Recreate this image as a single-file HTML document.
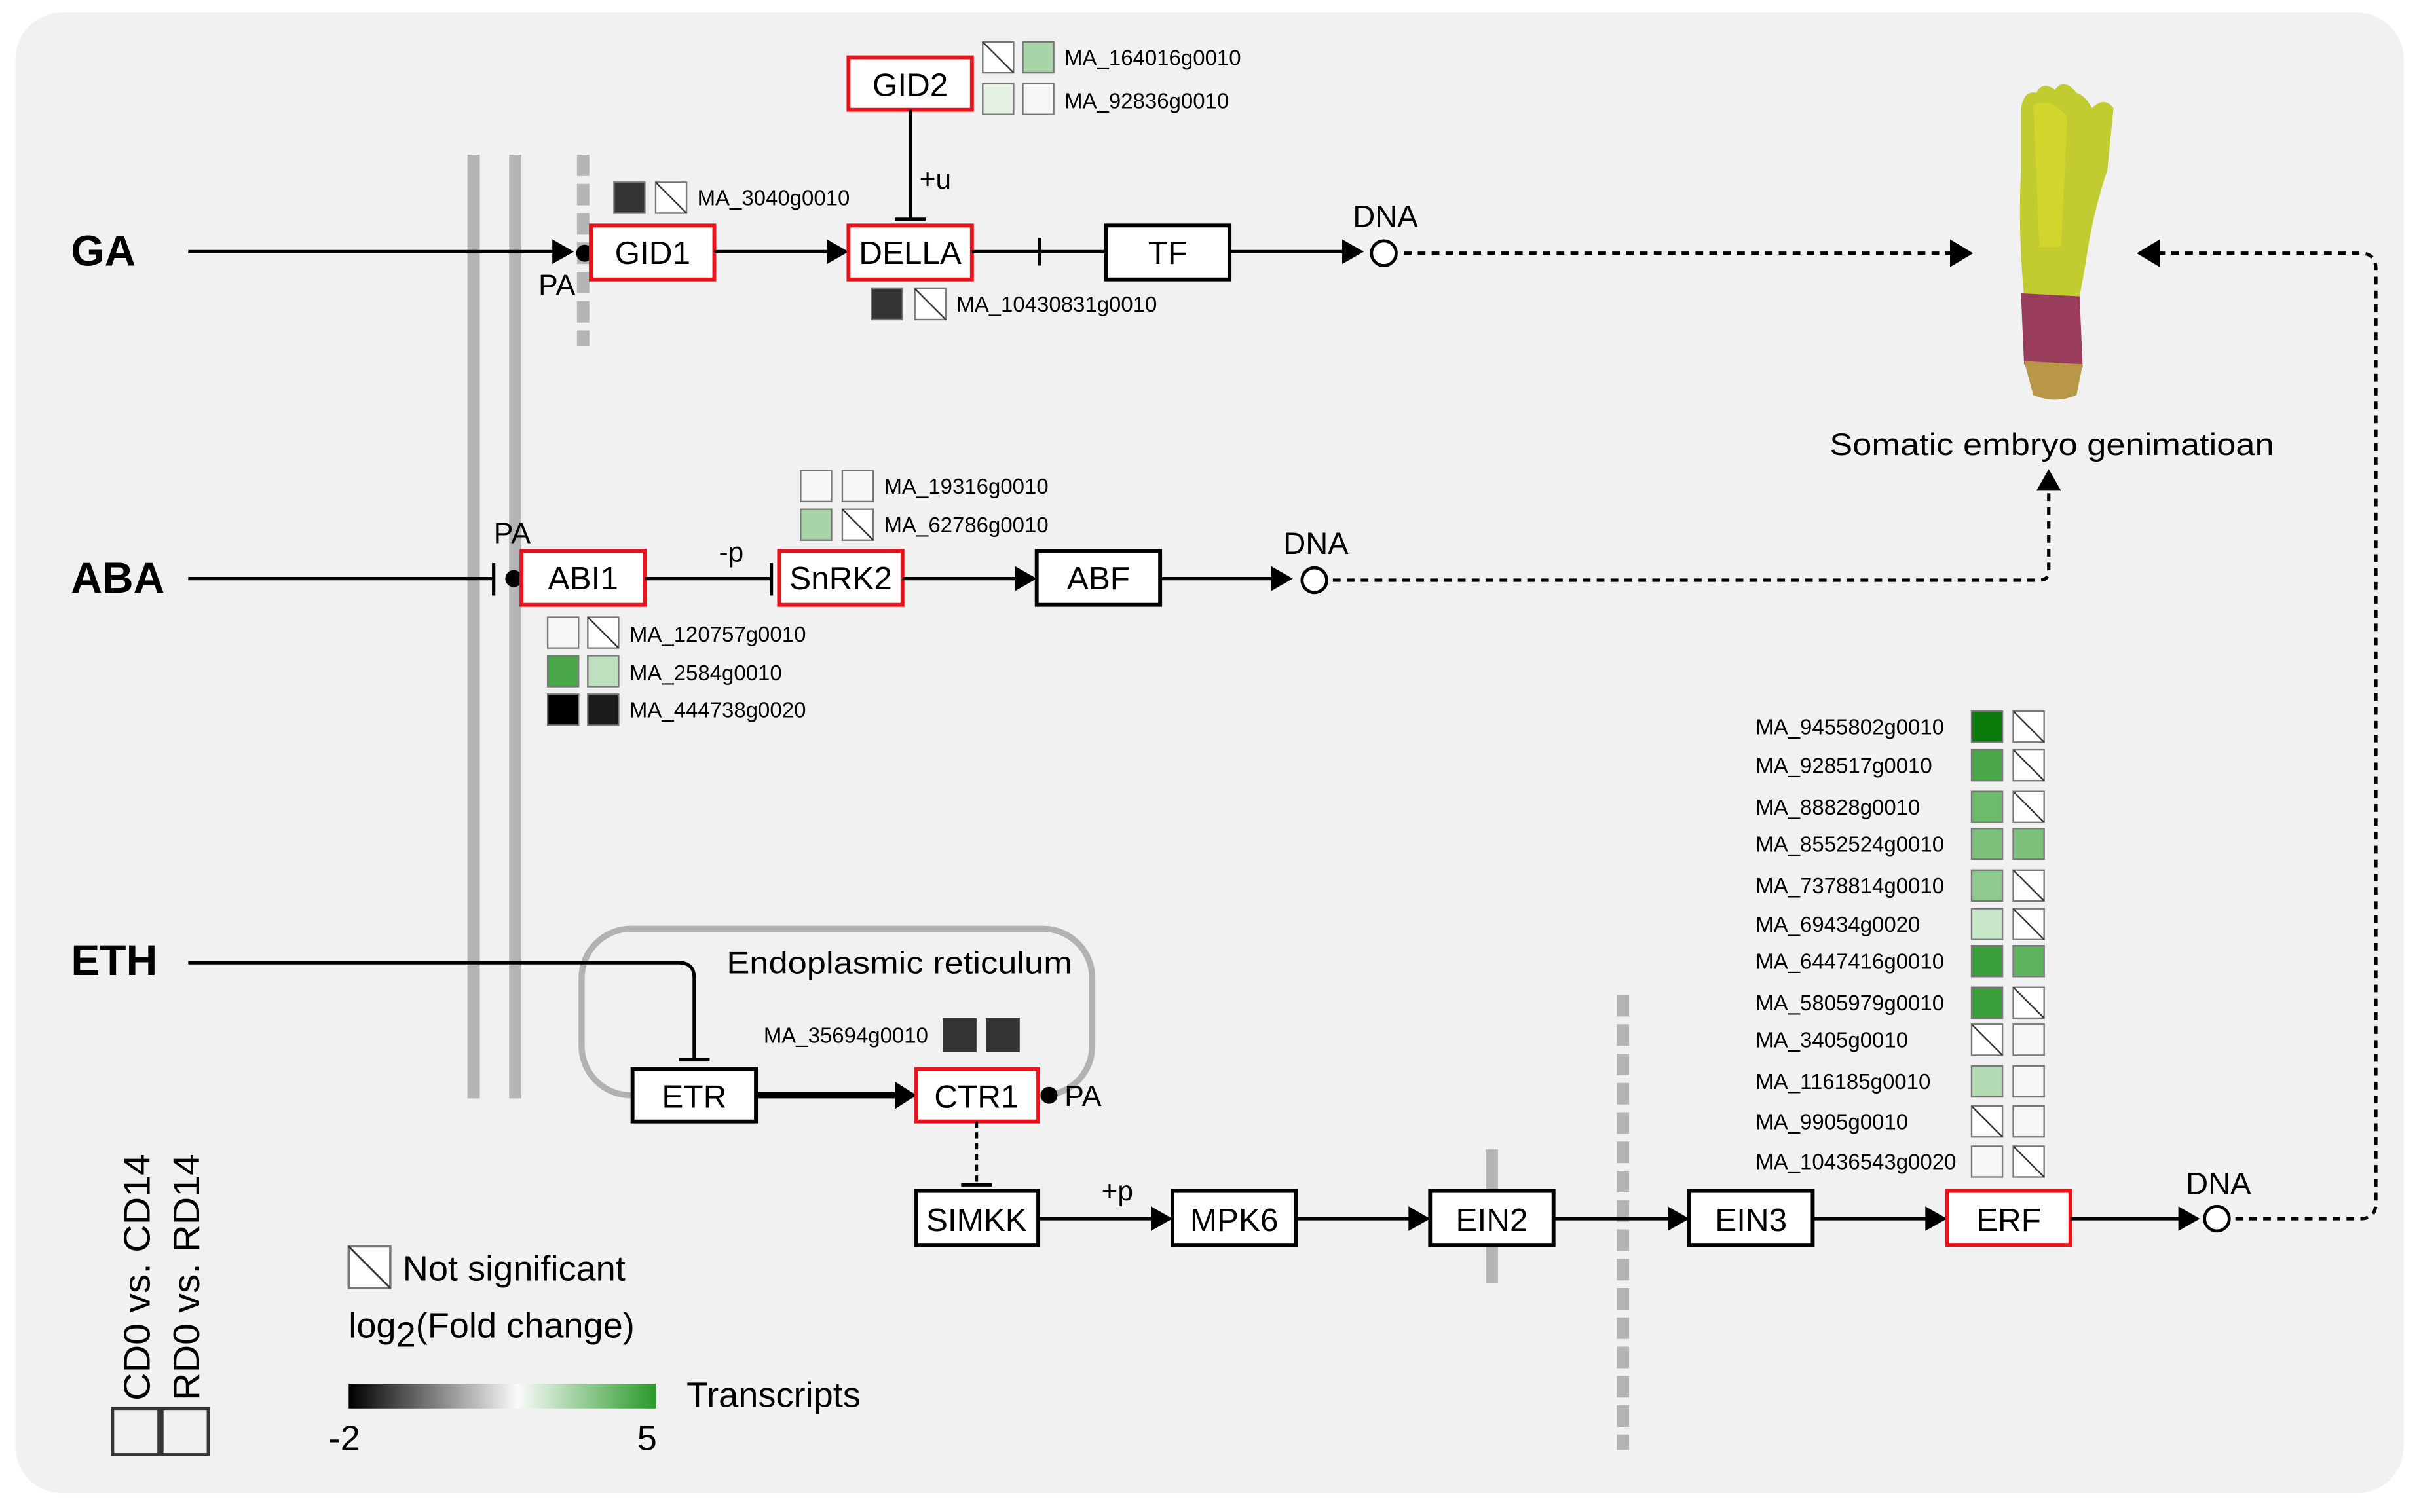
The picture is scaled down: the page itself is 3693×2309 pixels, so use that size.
<!DOCTYPE html>
<html><head><meta charset="utf-8"><style>
html,body{margin:0;padding:0;background:#fff;}
svg{display:block;}
text{font-family:"Liberation Sans Narrow","Liberation Sans",sans-serif;fill:#000;}
.w{font-family:"Liberation Sans",sans-serif;}
.b{font-family:"Liberation Sans",sans-serif;font-weight:bold;font-size:28px;}
.n{font-size:21px;text-anchor:middle;}
.s{font-size:14px;}
.box{fill:#fff;stroke:#000;stroke-width:2.5;}
.rbox{fill:#fff;stroke:#e8131b;stroke-width:2.5;}
.ln{stroke:#000;stroke-width:2.2;fill:none;}
.dt{stroke:#000;stroke-width:2.2;fill:none;stroke-dasharray:5,4;}
.sq{stroke:#777;stroke-width:1;}
</style></head><body>
<svg width="3693" height="2309" viewBox="0 0 1568 980" xmlns="http://www.w3.org/2000/svg">
<defs>
<g id="ns"><rect x="0" y="0" width="20" height="20" fill="#fff" stroke="#777" stroke-width="1"/><line x1="0" y1="0" x2="20" y2="20" stroke="#333" stroke-width="1"/></g>
<linearGradient id="gr" x1="0" x2="1" y1="0" y2="0">
<stop offset="0" stop-color="#000"/><stop offset="0.55" stop-color="#fafafa"/><stop offset="1" stop-color="#2a9a2a"/>
</linearGradient>
</defs>
<rect x="10" y="8" width="1548" height="960" rx="30" fill="#f1f1f1"/>

<!-- membranes -->
<line x1="307" y1="100" x2="307" y2="712" stroke="#b4b4b4" stroke-width="8"/>
<line x1="334" y1="100" x2="334" y2="712" stroke="#b4b4b4" stroke-width="8"/>
<line x1="378" y1="100" x2="378" y2="224" stroke="#b4b4b4" stroke-width="8" stroke-dasharray="14,5"/>
<line x1="967" y1="745" x2="967" y2="832" stroke="#b4b4b4" stroke-width="8"/>
<line x1="1052" y1="645" x2="1052" y2="940" stroke="#b4b4b4" stroke-width="8" stroke-dasharray="14,5"/>

<!-- GA row -->
<text class="b" x="46" y="172">GA</text>
<line class="ln" x1="122" y1="163" x2="360" y2="163"/>
<polygon points="358,155 372,163 358,171"/>
<circle cx="379" cy="164" r="5.5"/>
<text class="w" x="349" y="191" font-size="19">PA</text>
<rect class="rbox" x="383" y="146" width="80" height="35"/>
<text class="n" x="423" y="171">GID1</text>
<line class="ln" x1="463" y1="163" x2="538" y2="163" stroke-width="3"/>
<polygon points="536,155 550,163 536,171"/>
<rect class="rbox" x="550" y="146" width="80" height="35"/>
<text class="n" x="590" y="171">DELLA</text>
<line class="ln" x1="630" y1="163" x2="717" y2="163"/>
<line class="ln" x1="674" y1="154" x2="674" y2="172"/>
<rect class="box" x="717" y="146" width="80" height="35"/>
<text class="n" x="757" y="171">TF</text>
<line class="ln" x1="797" y1="163" x2="872" y2="163"/>
<polygon points="870,155 884,163 870,171"/>
<circle cx="897" cy="164" r="8" fill="#fff" stroke="#000" stroke-width="2"/>
<text class="w" x="898" y="147" font-size="20" text-anchor="middle">DNA</text>
<line class="dt" x1="910" y1="164" x2="1264" y2="164"/>
<polygon points="1264,155 1279,164 1264,173"/>

<rect class="rbox" x="550" y="37" width="80" height="34"/>
<text class="n" x="590" y="62">GID2</text>
<line class="ln" x1="590" y1="71" x2="590" y2="142"/>
<line class="ln" x1="580" y1="142" x2="600" y2="142" stroke-width="3"/>
<text class="w" x="596" y="122" font-size="18">+u</text>
<use href="#ns" x="637" y="27"/><rect class="sq" x="663" y="27" width="20" height="20" fill="#a8d5a8"/>
<rect class="sq" x="637" y="54" width="20" height="20" fill="#e4f0e4"/><rect class="sq" x="663" y="54" width="20" height="20" fill="#f7f7f7"/>
<text class="s" x="690" y="42">MA_164016g0010</text>
<text class="s" x="690" y="70">MA_92836g0010</text>
<rect class="sq" x="398" y="118" width="20" height="20" fill="#333"/><use href="#ns" x="425" y="118"/>
<text class="s" x="452" y="133">MA_3040g0010</text>
<rect class="sq" x="565" y="187" width="20" height="20" fill="#333"/><use href="#ns" x="593" y="187"/>
<text class="s" x="620" y="202">MA_10430831g0010</text>

<!-- embryo -->
<path d="M1310,70 Q1312,58 1320,60 Q1324,52 1332,58 Q1338,50 1346,60 Q1352,62 1356,70 Q1364,62 1370,70 L1366,110 Q1356,140 1352,170 L1348,192 L1312,192 Q1308,150 1310,110 Z" fill="#c2cc30"/>
<path d="M1318,68 Q1330,62 1340,76 L1336,160 L1322,160 Z" fill="#d8d82a" opacity="0.7"/>
<path d="M1310,190 L1348,192 L1350,238 L1312,236 Z" fill="#9a3d5c"/>
<path d="M1312,234 L1350,236 L1346,256 Q1332,262 1318,256 Z" fill="#b89848"/>
<text class="w" x="1330" y="295" font-size="20" text-anchor="middle" textLength="288" lengthAdjust="spacingAndGlyphs">Somatic embryo genimatioan</text>

<!-- ABA row -->
<text class="b" x="46" y="384">ABA</text>
<line class="ln" x1="122" y1="375" x2="320" y2="375"/>
<line class="ln" x1="320" y1="365" x2="320" y2="386"/>
<circle cx="333" cy="375" r="5.5"/>
<text class="w" x="320" y="352" font-size="19">PA</text>
<rect class="rbox" x="338" y="357" width="80" height="35"/>
<text class="n" x="378" y="382">ABI1</text>
<line class="ln" x1="418" y1="375" x2="500" y2="375"/>
<line class="ln" x1="500" y1="365" x2="500" y2="386"/>
<text class="w" x="466" y="364" font-size="18">-p</text>
<rect class="rbox" x="505" y="357" width="80" height="35"/>
<text class="n" x="545" y="382">SnRK2</text>
<line class="ln" x1="585" y1="375" x2="660" y2="375"/>
<polygon points="658,367 672,375 658,383"/>
<rect class="box" x="672" y="357" width="80" height="35"/>
<text class="n" x="712" y="382">ABF</text>
<line class="ln" x1="752" y1="375" x2="826" y2="375"/>
<polygon points="824,367 838,375 824,383"/>
<circle cx="852" cy="376" r="8" fill="#fff" stroke="#000" stroke-width="2"/>
<text class="w" x="853" y="359" font-size="20" text-anchor="middle">DNA</text>
<path class="dt" d="M864,376 L1322,376 Q1328,376 1328,370 L1328,318"/>
<polygon points="1320,318 1328,304 1336,318"/>
<rect class="sq" x="519" y="305" width="20" height="20" fill="#f7f7f7"/><rect class="sq" x="546" y="305" width="20" height="20" fill="#f7f7f7"/>
<rect class="sq" x="519" y="330" width="20" height="20" fill="#a8d5a8"/><use href="#ns" x="546" y="330"/>
<text class="s" x="573" y="320">MA_19316g0010</text>
<text class="s" x="573" y="345">MA_62786g0010</text>
<rect class="sq" x="355" y="400" width="20" height="20" fill="#f7f7f7"/><use href="#ns" x="381" y="400"/>
<rect class="sq" x="355" y="425" width="20" height="20" fill="#4aa84a"/><rect class="sq" x="381" y="425" width="20" height="20" fill="#bfe0bf"/>
<rect class="sq" x="355" y="450" width="20" height="20" fill="#000"/><rect class="sq" x="381" y="450" width="20" height="20" fill="#1a1a1a"/>
<text class="s" x="408" y="416">MA_120757g0010</text>
<text class="s" x="408" y="441">MA_2584g0010</text>
<text class="s" x="408" y="465">MA_444738g0020</text>

<!-- ETH row -->
<text class="b" x="46" y="632">ETH</text>
<rect x="377" y="602" width="331" height="108" rx="32" fill="none" stroke="#b2b2b2" stroke-width="4"/>
<text class="w" x="583" y="631" font-size="20" text-anchor="middle" textLength="224" lengthAdjust="spacingAndGlyphs">Endoplasmic reticulum</text>
<path class="ln" d="M122,624 L440,624 Q450,624 450,634 L450,686"/>
<line class="ln" x1="440" y1="687" x2="460" y2="687" stroke-width="3"/>
<rect class="box" x="410" y="693" width="80" height="34"/>
<text class="n" x="450" y="718">ETR</text>
<line x1="490" y1="710" x2="582" y2="710" stroke="#000" stroke-width="4"/>
<polygon points="580,701 594,710 580,719"/>
<rect class="rbox" x="594" y="693" width="79" height="34"/>
<text class="n" x="633" y="718">CTR1</text>
<circle cx="680" cy="710" r="5.5"/>
<text class="w" x="690" y="717" font-size="19">PA</text>
<text class="s" x="495" y="676">MA_35694g0010</text>
<rect x="611" y="660" width="22" height="22" fill="#333"/><rect x="639" y="660" width="22" height="22" fill="#333"/>
<line x1="633" y1="727" x2="633" y2="766" stroke="#000" stroke-width="2" stroke-dasharray="4,3"/>
<line class="ln" x1="623" y1="768" x2="643" y2="768" stroke-width="3"/>
<rect class="box" x="594" y="772" width="79" height="35"/>
<text class="n" x="633" y="798">SIMKK</text>
<line class="ln" x1="673" y1="790" x2="748" y2="790"/>
<polygon points="746,782 760,790 746,798"/>
<text class="w" x="714" y="778" font-size="18">+p</text>
<rect class="box" x="760" y="772" width="80" height="35"/>
<text class="n" x="800" y="798">MPK6</text>
<line class="ln" x1="840" y1="790" x2="915" y2="790"/>
<polygon points="913,782 927,790 913,798"/>
<rect class="box" x="927" y="772" width="80" height="35"/>
<text class="n" x="967" y="798">EIN2</text>
<line class="ln" x1="1007" y1="790" x2="1083" y2="790"/>
<polygon points="1081,782 1095,790 1081,798"/>
<rect class="box" x="1095" y="772" width="80" height="35"/>
<text class="n" x="1135" y="798">EIN3</text>
<line class="ln" x1="1175" y1="790" x2="1250" y2="790"/>
<polygon points="1248,782 1262,790 1248,798"/>
<rect class="rbox" x="1262" y="772" width="80" height="35"/>
<text class="n" x="1302" y="798">ERF</text>
<line class="ln" x1="1342" y1="790" x2="1414" y2="790"/>
<polygon points="1412,782 1426,790 1412,798"/>
<circle cx="1437" cy="790" r="8" fill="#fff" stroke="#000" stroke-width="2"/>
<text class="w" x="1438" y="774" font-size="20" text-anchor="middle">DNA</text>
<path class="dt" d="M1449,790 L1530,790 Q1540,790 1540,780 L1540,174 Q1540,164 1530,164 L1400,164"/>
<polygon points="1400,155 1385,164 1400,173"/>

<!-- ERF heatmap -->
<text class="s" x="1138" y="476">MA_9455802g0010</text>
<text class="s" x="1138" y="501">MA_928517g0010</text>
<text class="s" x="1138" y="528">MA_88828g0010</text>
<text class="s" x="1138" y="552">MA_8552524g0010</text>
<text class="s" x="1138" y="579">MA_7378814g0010</text>
<text class="s" x="1138" y="604">MA_69434g0020</text>
<text class="s" x="1138" y="628">MA_6447416g0010</text>
<text class="s" x="1138" y="655">MA_5805979g0010</text>
<text class="s" x="1138" y="679">MA_3405g0010</text>
<text class="s" x="1138" y="706">MA_116185g0010</text>
<text class="s" x="1138" y="732">MA_9905g0010</text>
<text class="s" x="1138" y="758">MA_10436543g0020</text>
<rect class="sq" x="1278" y="461" width="20" height="20" fill="#0a7a0a"/><use href="#ns" x="1305" y="461"/>
<rect class="sq" x="1278" y="486" width="20" height="20" fill="#4aa84a"/><use href="#ns" x="1305" y="486"/>
<rect class="sq" x="1278" y="513" width="20" height="20" fill="#6cba6c"/><use href="#ns" x="1305" y="513"/>
<rect class="sq" x="1278" y="537" width="20" height="20" fill="#7cc27c"/><rect class="sq" x="1305" y="537" width="20" height="20" fill="#7cc27c"/>
<rect class="sq" x="1278" y="564" width="20" height="20" fill="#8ec98e"/><use href="#ns" x="1305" y="564"/>
<rect class="sq" x="1278" y="589" width="20" height="20" fill="#c8e6c8"/><use href="#ns" x="1305" y="589"/>
<rect class="sq" x="1278" y="613" width="20" height="20" fill="#3a9e3a"/><rect class="sq" x="1305" y="613" width="20" height="20" fill="#5cb35c"/>
<rect class="sq" x="1278" y="640" width="20" height="20" fill="#3a9e3a"/><use href="#ns" x="1305" y="640"/>
<use href="#ns" x="1278" y="664"/><rect class="sq" x="1305" y="664" width="20" height="20" fill="#f7f7f7"/>
<rect class="sq" x="1278" y="691" width="20" height="20" fill="#b5dbb5"/><rect class="sq" x="1305" y="691" width="20" height="20" fill="#f7f7f7"/>
<use href="#ns" x="1278" y="717"/><rect class="sq" x="1305" y="717" width="20" height="20" fill="#f7f7f7"/>
<rect class="sq" x="1278" y="743" width="20" height="20" fill="#f7f7f7"/><use href="#ns" x="1305" y="743"/>

<!-- legend -->
<text class="w" font-size="24" transform="translate(97,908) rotate(-90)" textLength="160" lengthAdjust="spacingAndGlyphs">CD0 vs. CD14</text>
<text class="w" font-size="24" transform="translate(129,908) rotate(-90)" textLength="160" lengthAdjust="spacingAndGlyphs">RD0 vs. RD14</text>
<rect x="73" y="913" width="30" height="30" fill="none" stroke="#333" stroke-width="2"/>
<rect x="105" y="913" width="30" height="30" fill="none" stroke="#333" stroke-width="2"/>
<rect x="226" y="808" width="27" height="27" fill="#fff" stroke="#777" stroke-width="1.5"/>
<line x1="226" y1="808" x2="253" y2="835" stroke="#333" stroke-width="1.2"/>
<text x="261" y="830" font-size="23">Not significant</text>
<text x="226" y="867" font-size="23">log<tspan font-size="23" dy="6">2</tspan><tspan dy="-6">(Fold change)</tspan></text>
<rect x="226" y="897" width="199" height="16" fill="url(#gr)"/>
<text x="445" y="912" font-size="23">Transcripts</text>
<text x="213" y="940" font-size="23">-2</text>
<text x="413" y="940" font-size="23">5</text>
</svg>
</body></html>
